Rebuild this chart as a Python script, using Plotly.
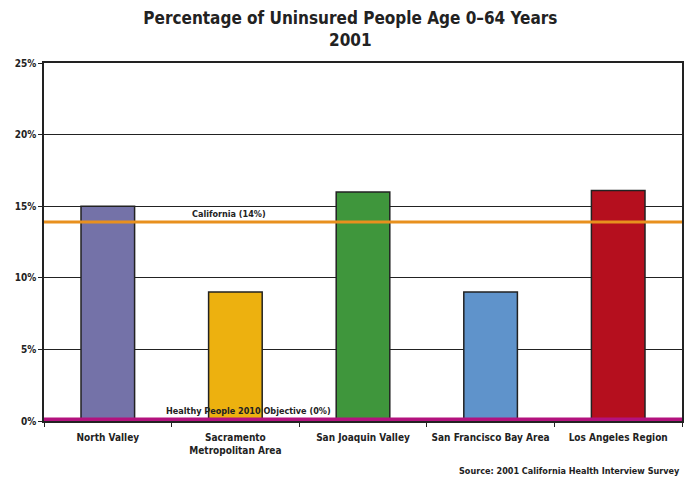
import plotly.graph_objects as go

regions = ["North Valley", "Sacramento<br>Metropolitan Area", "San Joaquin Valley",
           "San Francisco Bay Area", "Los Angeles Region"]
uninsured_pct = [15.0, 9.0, 16.0, 9.0, 16.1]
bar_colors = ["#7472A8", "#EDB10F", "#3F963C", "#5F93CB", "#B50F1E"]
california_pct = 13.9
objective_pct = 0
y_ticks = [0, 5, 10, 15, 20, 25]
y_tick_labels = ["0%", "5%", "10%", "15%", "20%", "25%"]

FONT = "Liberation Sans Narrow, DejaVu Sans Condensed, Arial Narrow, sans-serif"

fig = go.Figure()
fig.add_trace(go.Bar(
    x=regions, y=uninsured_pct,
    marker=dict(color=bar_colors, line=dict(color="#222222", width=1.5)),
    width=0.42, showlegend=False,
))

# reference lines (objective line sits on the axis, half gets clipped)
fig.add_hline(y=california_pct, line=dict(color="#E8901E", width=3))
fig.add_hline(y=objective_pct, line=dict(color="#B3127E", width=7))

fig.add_annotation(text="<b>California (14%)</b>", x=0.29, xref="paper", xanchor="center",
                   y=california_pct, yref="y", yanchor="bottom", yshift=1,
                   showarrow=False, font=dict(size=9, family=FONT, color="#222"))
fig.add_annotation(text="<b>Healthy People 2010 Objective (0%)</b>", x=0.32, xref="paper",
                   xanchor="center", y=objective_pct, yref="y", yanchor="bottom", yshift=3,
                   showarrow=False, font=dict(size=9, family=FONT, color="#222"))
fig.add_annotation(text="<b>Source: 2001 California Health Interview Survey</b>",
                   x=1, xref="paper", xanchor="right", y=-0.14, yref="paper",
                   yanchor="middle", showarrow=False,
                   font=dict(size=9, family=FONT, color="#222"))

fig.update_xaxes(
    tickson="boundaries", ticks="outside", ticklen=4, tickcolor="#222",
    showline=True, linecolor="#222", linewidth=1.5, mirror=True,
    tickfont=dict(size=10, family=FONT, color="#222", weight="bold"),
    ticklabelstandoff=6,
    showgrid=False, automargin=False,
)
fig.update_yaxes(
    range=[0, 25], tickvals=y_ticks, ticktext=y_tick_labels,
    ticks="outside", ticklen=4, tickcolor="#222",
    showline=True, linecolor="#222", linewidth=1.5, mirror=True,
    showgrid=True, gridcolor="#222", gridwidth=1,
    tickfont=dict(size=10, family=FONT, color="#222", weight="bold"),
    zeroline=False, automargin=False,
)
fig.update_layout(
    title=dict(text="<b>Percentage of Uninsured People Age 0\u201364 Years<br>2001</b>",
               x=0.51, xanchor="center", y=0.95, yanchor="top",
               font=dict(size=17, family=FONT, color="#222")),
    width=687, height=479,
    margin=dict(l=44, r=5, t=63, b=58),
    plot_bgcolor="white", paper_bgcolor="white",
    bargap=0.58,
)
fig.write_html("out.html", config={"displayModeBar": False},
               post_script="document.body.style.margin='0';")
